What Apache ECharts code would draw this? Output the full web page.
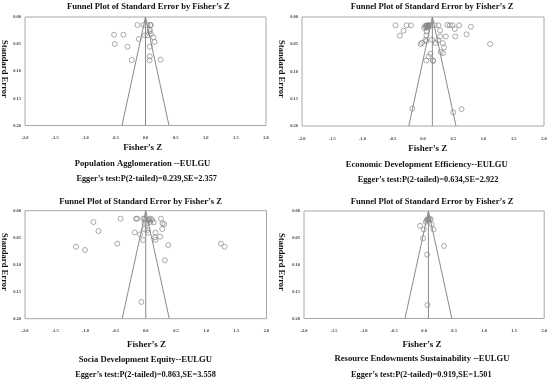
<!DOCTYPE html>
<html><head><meta charset="utf-8">
<script src="https://cdn.jsdelivr.net/npm/echarts@6/dist/echarts.min.js"></script>
<style>html,body{margin:0;padding:0;background:#fff}#c{width:550px;height:381px}</style>
</head><body><div id="c"></div>
<script>
// ---- data ----
const panelTitle = "Funnel Plot of Standard Error by Fisher\u2019s Z";
const xAxisTitle = "Fisher\u2019s Z";
const yAxisTitle = "Standard Error";
const subTitles = [
  "Population Agglomeration --EULGU",
  "Economic Development Efficiency--EULGU",
  "Socia Development Equity--EULGU",
  "Resource Endowments Sustainability --EULGU"
];
const eggerTexts = [
  "Egger\u2019s test:P(2-tailed)=0.239,SE=2.357",
  "Egger\u2019s test:P(2-tailed)=0.634,SE=2.922",
  "Egger\u2019s test:P(2-tailed)=0.863,SE=3.558",
  "Egger\u2019s test:P(2-tailed)=0.919,SE=1.501"
];
const xRange = [-2.0, 2.0];
const xStep = 0.5;
const seRange = [0.00, 0.20];
const seStep = 0.05;
const meanZ = [0.0, 0.155, 0.0, 0.072];
const funnelLow = [-0.39, -0.235, -0.39, -0.318];
const funnelHigh = [0.39, 0.545, 0.39, 0.462];

const pointsPopulation = [
  [-0.133,0.0148],[-0.033,0.0148],[0.033,0.0148],[0.089,0.0148],[0.078,0.0150],
  [-0.522,0.0326],[-0.367,0.0326],[-0.011,0.0338],[0.033,0.0338],[0.089,0.0314],
  [0.072,0.0234],[0.067,0.0265],[-0.111,0.0406],[0.133,0.0375],[0.150,0.0460],
  [-0.511,0.0498],[-0.300,0.0548],[0.072,0.0548],[0.072,0.0726],[0.067,0.0800],
  [-0.228,0.0794],[0.250,0.0788]
];
const pointsEconomic = [
  [-0.454,0.0153],[-0.271,0.0153],[-0.199,0.0153],[-0.321,0.0252],[-0.382,0.0344],
  [0.055,0.0172],[0.072,0.0153],[0.094,0.0153],[0.111,0.0147],[0.083,0.0184],
  [0.050,0.0196],[0.017,0.0202],[0.122,0.0166],[0.039,0.0160],[0.066,0.0158],
  [0.194,0.0153],[0.255,0.0153],[0.404,0.0147],[0.443,0.0153],[0.488,0.0153],
  [0.598,0.0153],[0.792,0.0178],[0.526,0.0221],[0.283,0.0245],[0.061,0.0264],
  [0.720,0.0319],[0.532,0.0356],[0.377,0.0356],[0.283,0.0356],[0.055,0.0337],
  [0.039,0.0423],[0.055,0.0442],[-0.017,0.0472],[-0.039,0.0497],[0.150,0.0417],
  [0.249,0.0429],[0.211,0.0479],[0.327,0.0479],[0.349,0.0558],[1.108,0.0497],
  [0.294,0.0644],[0.332,0.0663],[0.122,0.0675],[0.094,0.0724],[0.055,0.0798],
  [0.166,0.0804],[0.166,0.0800],[-0.177,0.1680],[0.499,0.1750],[0.637,0.1690]
];
const pointsSocial = [
  [-1.156,0.0667],[-1.006,0.0728],[-0.867,0.0210],[-0.783,0.0377],[-0.472,0.0611],
  [-0.417,0.0148],[-0.161,0.0148],[-0.144,0.0148],[-0.044,0.0148],[-0.017,0.0148],
  [0.039,0.0173],[0.083,0.0148],[0.106,0.0173],[0.072,0.0210],[0.133,0.0216],
  [-0.017,0.0235],[0.022,0.0235],[-0.183,0.0401],[-0.094,0.0438],[-0.044,0.0543],
  [-0.017,0.0346],[0.039,0.0407],[0.028,0.0358],[0.161,0.0407],[0.150,0.0494],
  [0.161,0.0543],[0.239,0.0481],[0.272,0.0340],[0.250,0.0148],[0.278,0.0235],
  [0.306,0.0247],[0.372,0.0636],[0.317,0.0920],[-0.072,0.1690],[1.244,0.0611],
  [1.306,0.0667],[0.056,0.0160]
];
const pointsResource = [
  [0.056,0.0160],[0.072,0.0153],[0.094,0.0153],[0.111,0.0153],[0.044,0.0172],
  [0.028,0.0202],[-0.067,0.0276],[0.128,0.0252],[-0.006,0.0344],[0.156,0.0344],
  [-0.017,0.0509],[0.333,0.0650],[0.050,0.0810],[0.056,0.1748]
];
const panelPoints = [pointsPopulation, pointsEconomic, pointsSocial, pointsResource];

// ---- layout ----
const grids = [
  {left:25, top:17, width:241, height:108.5},
  {left:302, top:17, width:242, height:109},
  {left:25, top:210.7, width:241.5, height:108},
  {left:304, top:211, width:241.5, height:107.5}
];
const textPos = [
  {title:[148.3,6.3], fz:[142.7,148], sub:[142.5,163.3], egg:[146.7,178.8], se:[4.5,69]},
  {title:[432,6.3], fz:[427.7,149], sub:[426.7,164.3], egg:[428,179.7], se:[281.5,69]},
  {title:[140.5,201.3], fz:[146.5,345], sub:[145.3,360], egg:[145.5,374.8], se:[4.5,262]},
  {title:[432,201.7], fz:[422,345], sub:[422,359], egg:[421.3,374.8], se:[281.5,262]}
];
const FONT = '"Liberation Serif","Times New Roman",serif';
const txt = (t, p, size, rot) => ({
  type:'text', x:p[0], y:p[1], rotation: rot || 0,
  style:{text:t, align:'center', verticalAlign:'middle', fill:'#111',
         font:'bold ' + size + 'px ' + FONT}
});

const chart = echarts.init(document.getElementById('c'), null, {renderer:'canvas'});
const xAxes = [], yAxes = [], series = [], graphics = [];
grids.forEach((g, i) => {
  xAxes.push({
    gridIndex:i, type:'value', min:xRange[0], max:xRange[1], interval:xStep,
    axisLine:{show:false}, axisTick:{show:false}, splitLine:{show:false},
    axisLabel:{fontSize:4.5, color:'#444', margin:10, fontWeight:'bold', fontFamily:FONT,
               formatter:v => v.toFixed(1)}
  });
  yAxes.push({
    gridIndex:i, type:'value', inverse:true, min:seRange[0], max:seRange[1], interval:seStep,
    axisLine:{show:false}, axisTick:{show:false}, splitLine:{show:false},
    axisLabel:{fontSize:4.5, color:'#444', margin:4, fontWeight:'bold', fontFamily:FONT,
               formatter:v => v.toFixed(2)}
  });
  series.push({
    type:'line', xAxisIndex:i, yAxisIndex:i, symbol:'none', silent:true,
    lineStyle:{color:'#8a8a8a', width:1},
    data:[[funnelLow[i], seRange[1]],[meanZ[i], seRange[0]],[funnelHigh[i], seRange[1]]]
  });
  series.push({
    type:'line', xAxisIndex:i, yAxisIndex:i, symbol:'none', silent:true,
    lineStyle:{color:'#8a8a8a', width:1},
    data:[[meanZ[i], seRange[0]],[meanZ[i], seRange[1]]]
  });
  series.push({
    type:'scatter', xAxisIndex:i, yAxisIndex:i, symbol:'circle', symbolSize:5,
    itemStyle:{color:'rgba(0,0,0,0)', borderColor:'#7a7a7a', borderWidth:0.8},
    data:panelPoints[i]
  });
  const p = textPos[i];
  graphics.push(txt(panelTitle, p.title, 8.6));
  graphics.push(txt(xAxisTitle, p.fz, 9));
  graphics.push(txt(subTitles[i], p.sub, 8.6));
  graphics.push(txt(eggerTexts[i], p.egg, 8.3));
  graphics.push(txt(yAxisTitle, p.se, 8.6, -Math.PI/2));
});

chart.setOption({
  animation:false,
  backgroundColor:'#fff',
  grid: grids.map(g => Object.assign({show:true, borderColor:'#a8a8a8', borderWidth:1, backgroundColor:'transparent', containLabel:false}, g)),
  xAxis:xAxes, yAxis:yAxes, series:series, graphic:graphics
});
</script></body></html>
